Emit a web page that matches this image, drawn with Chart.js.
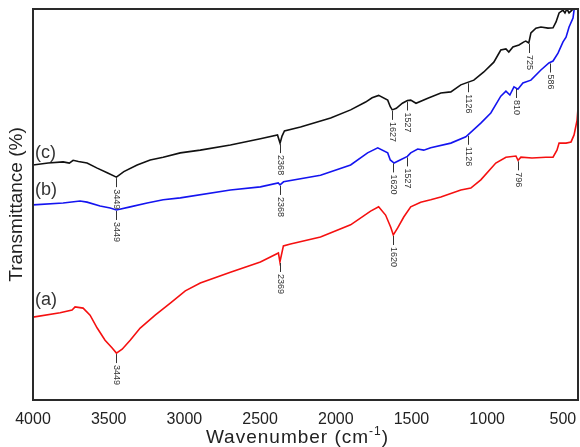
<!DOCTYPE html>
<html>
<head>
<meta charset="utf-8">
<script src="https://cdn.jsdelivr.net/npm/chart.js@4/dist/chart.umd.min.js"></script>
<style>
  html, body { margin: 0; padding: 0; background: #fff; }
  #wrap { width: 580px; height: 447px; }
</style>
</head>
<body>
<div id="wrap"><canvas id="ftir" width="580" height="447"></canvas></div>
<script>
// Wavenumber tick labels (cm-1)
const xTicks = [4000, 3500, 3000, 2500, 2000, 1500, 1000, 500];

// (a) red spectrum
const wnA = [4000,3821,3742,3722,3669,3623,3576,3524,3477,3449,
             3411,3358,3292,3193,3093,2994,2895,2696,2498,2379,
             2369,2346,2299,2101,1902,1770,1717,1671,1637,1620,
             1591,1551,1505,1439,1373,1306,1174,1108,1042,943,
             876,810,796,777,704,612,565,539,525,479,
             446,426,406,393];
const tA  = [21.2,22.3,23.0,23.8,23.5,21.7,18.4,15.3,13.3,12.0,
             13.0,15.3,18.4,21.7,24.8,27.9,29.9,32.7,35.3,37.6,
             35.3,39.4,39.9,41.7,44.8,48.3,49.4,47.3,44.2,42.2,
             44.0,46.8,49.4,50.6,51.2,51.9,53.7,54.2,56.3,60.6,
             62.1,62.4,61.3,62.1,61.9,62.1,62.1,63.9,65.7,65.7,
             66.0,67.8,71.6,78.0];

// (b) blue spectrum
const wnB = [4000,3801,3689,3643,3557,3490,3449,3358,3246,3140,
             3027,2696,2498,2380,2368,2345,2101,1902,1790,1723,
             1657,1640,1615,1575,1527,1505,1459,1419,1373,1240,
             1141,1042,976,910,876,850,823,797,764,711,
             645,592,565,532,499,479,459,433,426,413];
const tB  = [49.9,50.4,50.9,50.6,49.6,49.1,48.6,49.4,50.4,51.2,
             51.7,53.7,54.5,55.5,55.0,55.8,57.5,60.1,63.2,64.5,
             63.2,61.4,60.6,61.4,62.3,63.2,64.2,63.9,64.5,65.7,
             67.3,70.8,73.4,77.7,79.0,78.0,80.1,79.5,81.1,81.8,
             84.4,86.2,86.7,88.7,91.6,92.8,95.4,97.7,99.7,102.3];

// (c) black spectrum
const wnC = [4000,3900,3801,3760,3735,3700,3643,3576,3510,3449,
             3400,3312,3226,3140,3027,2895,2696,2498,2385,2368,
             2355,2339,2233,2034,1902,1803,1760,1717,1657,1640,
             1627,1600,1560,1527,1505,1470,1392,1306,1240,1174,
             1088,1022,956,910,876,857,830,790,757,745,
             725,711,678,645,598,565,545,525,499,486,
             473,459,440,426,393];
const tC  = [60.1,60.6,60.9,60.6,61.3,61.0,60.6,59.3,58.1,57.0,
             58.4,60.1,61.4,62.1,63.2,63.9,65.2,66.8,67.8,65.7,
             67.5,68.8,69.8,72.1,74.2,76.2,77.3,77.9,76.7,75.0,
             74.2,74.6,75.9,76.6,76.7,75.9,77.2,78.5,78.8,80.6,
             81.8,83.9,86.4,89.5,89.8,89.0,90.3,90.8,91.6,91.8,
             91.3,93.9,95.1,95.4,95.1,95.2,96.7,99.0,99.7,99.0,
             100.0,99.0,99.7,100.5,101.8];

// Band positions marked under each spectrum (cm-1)
const peaksA = [3449, 2369, 1620, 796];
const peaksB = [3449, 2368, 1620, 1527, 1126, 810, 586];
const peaksC = [3449, 2368, 1627, 1527, 1126, 725];

const seriesNames = ['(a)', '(b)', '(c)'];

const FONT = "'Liberation Sans', Arial, Helvetica, sans-serif";

function toPoints(wn, t) { return wn.map((w, i) => ({ x: w, y: t[i] })); }

// value of a spectrum at an arbitrary wavenumber (linear between samples)
function valueAt(wn, t, w) {
  for (let i = 0; i < wn.length - 1; i++) {
    const a = wn[i], b = wn[i + 1];
    if ((w <= a && w >= b) || (w >= a && w <= b)) {
      const f = (w - a) / (b - a);
      return t[i] + f * (t[i + 1] - t[i]);
    }
  }
  return t[t.length - 1];
}

const spectra = [
  { wn: wnA, t: tA, peaks: peaksA, name: seriesNames[0], labelDy: -17 },
  { wn: wnB, t: tB, peaks: peaksB, name: seriesNames[1], labelDy: -15 },
  { wn: wnC, t: tC, peaks: peaksC, name: seriesNames[2], labelDy: -12 }
];

const decorations = {
  id: 'decorations',
  afterDatasetsDraw(chart) {
    const ctx = chart.ctx;
    const xs = chart.scales.x, ys = chart.scales.y;
    const area = chart.chartArea;
    ctx.save();

    // band markers: short stem below the trace and a vertical wavenumber label
    ctx.strokeStyle = '#333';
    ctx.fillStyle = '#333';
    ctx.lineWidth = 1;
    ctx.font = '9px ' + FONT;
    spectra.forEach(s => {
      s.peaks.forEach(p => {
        const px = Math.round(xs.getPixelForValue(p)) + 0.5;
        const py = ys.getPixelForValue(valueAt(s.wn, s.t, p));
        ctx.beginPath();
        ctx.moveTo(px, py + 1);
        ctx.lineTo(px, py + 10);
        ctx.stroke();
        ctx.save();
        ctx.translate(px, py + 12);
        ctx.rotate(Math.PI / 2);
        ctx.textAlign = 'left';
        ctx.textBaseline = 'middle';
        ctx.fillText(String(p), 0, 0);
        ctx.restore();
      });
    });

    // sample labels at the start of each trace
    ctx.font = '18px ' + FONT;
    ctx.fillStyle = '#333';
    ctx.textAlign = 'left';
    ctx.textBaseline = 'middle';
    spectra.forEach(s => {
      const x0 = xs.getPixelForValue(s.wn[0]) + 2;
      const y0 = ys.getPixelForValue(s.t[0]) + s.labelDy;
      ctx.fillText(s.name, x0, y0);
    });

    // plot frame
    ctx.strokeStyle = '#2a2a2a';
    ctx.lineWidth = 2;
    ctx.strokeRect(area.left, area.top, area.right - area.left, area.bottom - area.top);

    // x axis title with superscript
    const main = 'Wavenumber (cm';
    const sup = '-1';
    const tail = ')';
    ctx.fillStyle = '#222';
    ctx.textBaseline = 'alphabetic';
    ctx.letterSpacing = '1px';
    ctx.font = '19px ' + FONT;
    const wMain = ctx.measureText(main).width;
    const wTail = ctx.measureText(tail).width;
    ctx.font = '12px ' + FONT;
    const wSup = ctx.measureText(sup).width;
    const total = wMain + wSup + wTail;
    const cx = (area.left + area.right) / 2 - 8;
    let x = cx - total / 2;
    const base = 443;
    ctx.font = '19px ' + FONT;
    ctx.fillText(main, x, base);
    x += wMain;
    ctx.font = '12px ' + FONT;
    ctx.fillText(sup, x, base - 8);
    x += wSup;
    ctx.font = '19px ' + FONT;
    ctx.fillText(tail, x, base);
    ctx.restore();
  }
};

new Chart(document.getElementById('ftir'), {
  type: 'line',
  data: {
    datasets: [
      { label: seriesNames[0], data: toPoints(wnA, tA), borderColor: '#f51010' },
      { label: seriesNames[1], data: toPoints(wnB, tB), borderColor: '#1414f0' },
      { label: seriesNames[2], data: toPoints(wnC, tC), borderColor: '#111111' }
    ]
  },
  options: {
    responsive: false,
    animation: false,
    devicePixelRatio: 1,
    layout: { padding: { top: 9, right: 2, left: 0, bottom: 0 } },
    elements: {
      point: { radius: 0 },
      line: { borderWidth: 1.6, tension: 0, fill: false }
    },
    plugins: { legend: { display: false }, tooltip: { enabled: false } },
    scales: {
      x: {
        type: 'linear',
        reverse: true,
        min: 400,
        max: 4000,
        grid: { display: false, drawTicks: false },
        border: { display: false },
        ticks: {
          autoSkip: false,
          maxRotation: 0,
          padding: 10,
          color: '#222',
          font: { family: FONT, size: 16 },
          callback: v => String(v)
        },
        afterBuildTicks: s => { s.ticks = xTicks.map(v => ({ value: v })); },
        afterFit: s => { s.height = 47; s.paddingLeft = 0; s.paddingRight = 0; }
      },
      y: {
        min: 0,
        max: 100,
        grid: { display: false, drawTicks: false },
        border: { display: false },
        ticks: { display: false },
        title: {
          display: true,
          text: 'Transmittance (%)',
          color: '#222',
          font: { family: FONT, size: 19 },
          padding: { top: 5, bottom: 0 }
        },
        afterFit: s => { s.width = 33; s.paddingTop = 0; s.paddingBottom = 0; }
      }
    }
  },
  plugins: [decorations]
});
</script>
</body>
</html>
